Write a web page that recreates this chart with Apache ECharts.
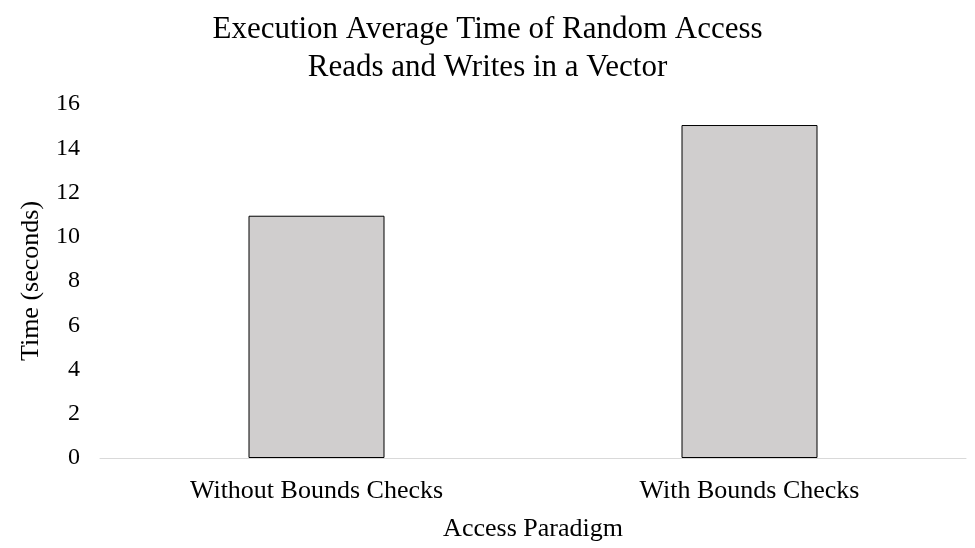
<!DOCTYPE html>
<html>
<head>
<meta charset="utf-8">
<script src="https://cdn.jsdelivr.net/npm/echarts@6/dist/echarts.min.js"></script>
<style>html,body{margin:0;padding:0;background:#fff}#chart{width:975px;height:548px}</style>
</head>
<body>
<div id="chart"></div>
<script>
var categories = ['Without Bounds Checks', 'With Bounds Checks'];
var times = [10.95, 15.05];
var yTicks = {min: 0, max: 16, interval: 2};

var font = '"Liberation Serif", "Times New Roman", serif';
var chart = echarts.init(document.getElementById('chart'));
chart.setOption({
    animation: false,
    title: {
        text: 'Execution Average Time of Random Access\nReads and Writes in a Vector',
        left: 'center',
        top: 6,
        textStyle: {fontFamily: font, fontSize: 31, fontWeight: 'normal', color: '#000', lineHeight: 38}
    },
    grid: {left: 100, right: 9, top: 104, bottom: 90},
    xAxis: {
        type: 'category',
        data: categories,
        name: 'Access Paradigm',
        nameLocation: 'middle',
        nameGap: 58,
        nameTextStyle: {fontFamily: font, fontSize: 26, color: '#000'},
        axisLine: {lineStyle: {color: '#d9d9d9'}},
        axisTick: {show: false},
        axisLabel: {fontFamily: font, fontSize: 26, color: '#000', margin: 20}
    },
    yAxis: {
        type: 'value',
        min: yTicks.min,
        max: yTicks.max,
        interval: yTicks.interval,
        name: 'Time (seconds)',
        nameLocation: 'middle',
        nameGap: 56,
        nameTextStyle: {fontFamily: font, fontSize: 26, color: '#000'},
        splitLine: {show: false},
        axisLine: {show: false},
        axisTick: {show: false},
        axisLabel: {fontFamily: font, fontSize: 24, color: '#000', margin: 20}
    },
    series: [{
        type: 'bar',
        data: times,
        barWidth: 136,
        itemStyle: {color: '#d0cece', borderColor: '#000', borderWidth: 1}
    }]
});
</script>
</body>
</html>
